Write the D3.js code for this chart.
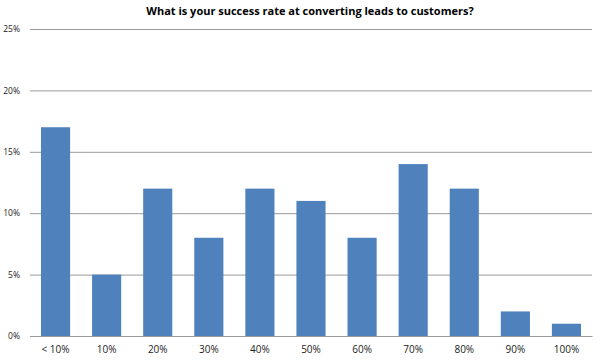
<!DOCTYPE html>
<html>
<head>
<meta charset="utf-8">
<script src="https://cdn.jsdelivr.net/npm/d3@7"></script>
<style>
  body { margin: 0; background: #fff; }
  text { font-family: "Open Sans", "Liberation Sans", sans-serif; }
</style>
</head>
<body>
<div id="chart"></div>
<script>
// Data
const categories = ["< 10%", "10%", "20%", "30%", "40%", "50%", "60%", "70%", "80%", "90%", "100%"];
const shares = [17, 5, 12, 8, 12, 11, 8, 14, 12, 2, 1];
const yTicks = [0, 5, 10, 15, 20, 25];

const width = 600, height = 362;
const margin = {top: 29, right: 8, bottom: 26, left: 30};
const innerW = width - margin.left - margin.right;
const innerH = height - margin.top - margin.bottom;

const svg = d3.select("#chart").append("svg")
    .attr("width", width)
    .attr("height", height);

// Title
svg.append("text")
    .attr("x", 310)
    .attr("y", 15)
    .attr("text-anchor", "middle")
    .attr("font-size", 11)
    .attr("font-weight", "bold")
    .attr("fill", "#000")
    .text("What is your success rate at converting leads to customers?");

const chart = svg.append("g")
    .attr("transform", `translate(${margin.left},${margin.top})`);

const x = d3.scaleBand()
    .domain(categories)
    .range([0, innerW])
    .paddingInner(0.43)
    .paddingOuter(0.215);

const y = d3.scaleLinear()
    .domain([0, 25])
    .range([innerH, 0]);

// Gridlines + y labels
const yAxis = d3.axisLeft(y)
    .tickValues(yTicks)
    .tickSize(-innerW)
    .tickPadding(10)
    .tickFormat(d => d + "%");

const yG = chart.append("g").call(yAxis);
yG.select(".domain").remove();
yG.selectAll(".tick line").attr("stroke", "#999").attr("stroke-width", 1);
yG.selectAll(".tick text").attr("font-size", 8.5).attr("fill", "#222");

// Bars
chart.selectAll(".bar")
    .data(shares)
    .join("rect")
    .attr("class", "bar")
    .attr("x", (d, i) => x(categories[i]))
    .attr("width", x.bandwidth())
    .attr("y", d => y(d))
    .attr("height", d => innerH - y(d))
    .attr("fill", "#4f81bd");

// x axis
const xAxis = d3.axisBottom(x).tickSize(0).tickPadding(10);
const xG = chart.append("g")
    .attr("transform", `translate(0,${innerH})`)
    .call(xAxis);
xG.select(".domain").attr("stroke", "#999");
xG.selectAll(".tick text").attr("font-size", 10).attr("fill", "#222");
</script>
</body>
</html>
